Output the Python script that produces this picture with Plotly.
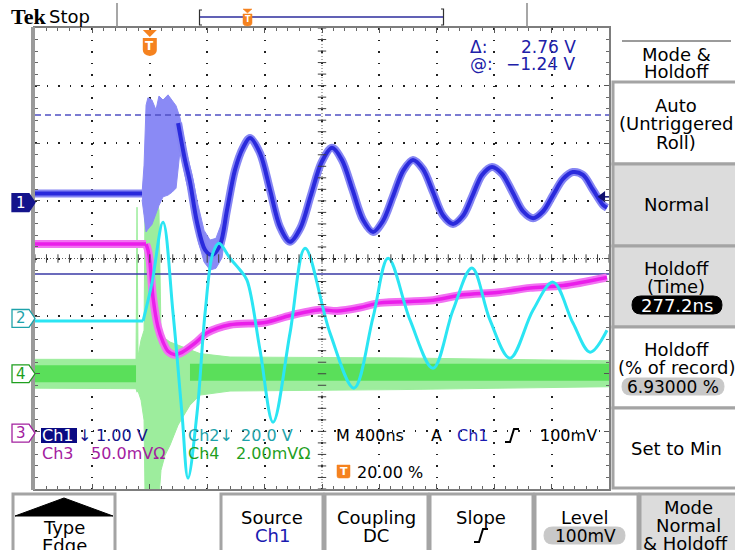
import numpy as np
import plotly.graph_objects as go

# ---------------- data ----------------
NS_PER_DIV = 400                       # M 400ns
TRIG_PCT = 20.0                        # trigger position, % of record
X_RANGE = [-TRIG_PCT / 10 * NS_PER_DIV, (10 - TRIG_PCT / 10) * NS_PER_DIV]
Y_RANGE = [-4, 4]

# channel settings: scale (units/div), position (div)
CH1_SCALE, CH1_POS = 1.00, 0.97        # V
CH2_SCALE, CH2_POS = 20.0, -1.04       # V
CH3_SCALE, CH3_POS = 50.0, -3.03       # mV
CH4_SCALE, CH4_POS = 2.00, -2.00       # mV

# Ch1 (V)
ch1_pre_t = [-800, -54]
ch1_pre_v = [0.16, 0.16]
ch1_burst_t = [-54, -40, -26, -13, 15, 43, 64, 92, 127, 155, 183, 211, 252, 294, 336, 378, 420, 461, 503, 545]
ch1_burst_hi = [0.16, 0.65, 1.69, 1.82, 1.78, 1.61, 1.85, 1.78, 1.87, 1.78, 1.68, 1.47, 0.91, 0.48, -0.04, -0.48, -0.65, -0.62, -0.34, 0.13]
ch1_burst_lo = [0.05, -0.22, -0.51, -0.46, -0.38, -0.20, -0.05, 0.10, 0.13, 0.18, 0.25, 0.91, 0.39, -0.04, -0.65, -1.03, -1.17, -1.14, -0.96, -0.22]
ch1_wave_t = [197, 245, 280, 329, 385, 433, 489, 538, 594, 649, 698,
              768, 838, 907, 977, 1050, 1123, 1197, 1270, 1339, 1413, 1486, 1556,
              1625, 1695, 1765, 1834, 1904, 1974, 2043, 2113, 2183, 2249, 2315, 2385,
              2455, 2528, 2601, 2671, 2741, 2810, 2880, 2949, 3019, 3089, 3158, 3186]
ch1_wave_v = [1.38, 0.74, 0.36, -0.34, -0.82, -0.91, -0.74, -0.13, 0.57, 0.95, 1.12,
              0.86, 0.22, -0.42, -0.68, -0.44, 0.13, 0.70, 0.95, 0.74, 0.22, -0.30, -0.51,
              -0.32, 0.11, 0.55, 0.74, 0.58, 0.18, -0.22, -0.37, -0.23, 0.12, 0.48, 0.62,
              0.50, 0.18, -0.15, -0.27, -0.15, 0.13, 0.41, 0.53, 0.48, 0.22, -0.04, -0.09]

# Ch2 (V): flat pre-trigger part, then the ringing
ch2_pre_t = [-800, -47]
ch2_pre_v = [-0.9, -0.9]
ch2_t = [-47, 15, 92, 162, 224, 266, 329, 385, 440, 482, 559, 629, 677, 768, 859, 977, 1082, 1256,
         1423, 1556, 1661, 1814, 1974, 2113, 2245, 2371, 2510, 2671, 2810, 2949, 3068, 3186]
ch2_v = [-0.9, 12.3, 33.4, 1.8, -32.9, -55.4, -32.9, 1.8, 22.7, 26.1, 20.9, 16.8, 13.3, -11.0, -36.0, -5.1, 24.4, -5.1,
         -24.2, 0.45, 20.9, -0.6, -17.3, 2.9, 17.5, -0.6, -13.8, 2.9, 12.6, -1.6, -11.7, -4.1]

# Ch3 (mV)
ch3_pre_t = [-800, -26]
ch3_pre_v = [164, 164]
ch3_t = [-26, -13, 1, 22, 57, 92, 127, 176, 224, 315, 399, 559, 803, 977, 1186, 1305, 1465, 1605,
         1953, 2183, 2420, 2650, 2880, 3186]
ch3_v = [164, 159, 148, 118, 92, 79, 71, 68, 70, 78, 87, 94, 96, 102, 107, 106, 109, 113,
         115, 120, 122, 126, 128, 135]

# Ch4 (mV): noise envelope and core
ch4_env_t = [-800, -96, -89, -82, -61, -40, -33, 1, 36, 64, 78, 106, 141, 197, 280, 350, 559, 1744, 3200]
ch4_env_hi = [0.50, 0.50, 5.78, 0.60, 1.17, 1.51, 6.03, 6.27, 6.20, 5.68, 1.51, 1.23, 1.10, 0.99, 0.82, 0.70, 0.58, 0.55, 0.45]
ch4_env_lo = [-0.50, -0.52, -0.64, -0.60, -0.92, -1.61, -4.3, -4.3, -4.3, -4.3, -3.35, -2.83, -2.48, -1.78, -1.09, -0.74, -0.60, -0.55, -0.45]
ch4_core_t = [-800, -96, None, 280, 3200]
ch4_core_v = [0.0, 0.0, None, 0.05, 0.05]

# cursors (Ch1) and trigger
CURSOR_AT = -1.24      # V
CURSOR_DELTA = 2.76    # V
TRIG_LEVEL = 0.100     # V on Ch1

# ---------------- helpers ----------------
W, H = 735, 550
GL, GR, GT, GB = 35, 609, 28, 489
FONT = "DejaVu Sans"
NAVY = "#14148C"
TEAL = "#1EA2AA"
MAG = "#A3209F"
GRN = "#1F9F1F"
ORANGE = "#F5821F"
GRAY_BOX = "#DCDCDC"
FRAME = "#A4A4A4"


def px(x):
    return (x - GL) / (GR - GL)


def py(y):
    return (GB - y) / (GB - GT)


def P(x, y):
    return f"{px(x):.5f},{py(y):.5f}"


def to_div(vals, scale, pos):
    return [None if v is None else v / scale + pos for v in vals]


fig = go.Figure()


def line(t, v, color, width, spline=True, smoothing=1.0, dash="solid"):
    fig.add_trace(go.Scatter(x=t, y=v, mode="lines", hoverinfo="skip", connectgaps=False,
                             line=dict(color=color, width=width, dash=dash,
                                       shape="spline" if spline else "linear",
                                       smoothing=smoothing if spline else None)))


# Ch4 burst / noise band
fig.add_trace(go.Scatter(x=ch4_env_t + ch4_env_t[::-1],
                         y=to_div(ch4_env_hi + ch4_env_lo[::-1], CH4_SCALE, CH4_POS),
                         fill="toself", fillcolor="#9DED9D", mode="lines",
                         line=dict(color="#9DED9D", width=1), hoverinfo="skip"))
line(ch4_core_t, to_div(ch4_core_v, CH4_SCALE, CH4_POS), "#5ADF5A", 17, spline=False)

# Ch1
fig.add_trace(go.Scatter(x=ch1_burst_t + ch1_burst_t[::-1],
                         y=to_div(ch1_burst_hi + ch1_burst_lo[::-1], CH1_SCALE, CH1_POS),
                         fill="toself", fillcolor="#8A8AF5", mode="lines",
                         line=dict(color="#8A8AF5", width=1), hoverinfo="skip"))
for t, v in ((ch1_pre_t, ch1_pre_v), (ch1_wave_t, ch1_wave_v)):
    line(t, to_div(v, CH1_SCALE, CH1_POS), "#8585F3", 8, smoothing=0.9)
    line(t, to_div(v, CH1_SCALE, CH1_POS), "#2A2ADC", 4, smoothing=0.9)

# cursors
cur_a = CURSOR_AT / CH1_SCALE + CH1_POS
cur_b = (CURSOR_AT + CURSOR_DELTA) / CH1_SCALE + CH1_POS
line(X_RANGE, [cur_a, cur_a], "#3A3AA6", 1.5, spline=False)
line(X_RANGE, [cur_b, cur_b], "#5050C4", 1.5, spline=False, dash="6px,4px")

# Ch3
for t, v in ((ch3_pre_t, ch3_pre_v), (ch3_t, ch3_v)):
    line(t, to_div(v, CH3_SCALE, CH3_POS), "#F272F2", 8, smoothing=0.8)
for t, v in ((ch3_pre_t, ch3_pre_v), (ch3_t, ch3_v)):
    line(t, to_div(v, CH3_SCALE, CH3_POS), "#EA1EEA", 3.5, smoothing=0.8)

# Ch2
line(ch2_pre_t, to_div(ch2_pre_v, CH2_SCALE, CH2_POS), "#2BE5F3", 3, spline=False)
line(ch2_t, to_div(ch2_v, CH2_SCALE, CH2_POS), "#2BE5F3", 3, smoothing=1.0)

# centre crosshair tick marks
xt = np.arange(X_RANGE[0], X_RANGE[1] + 1, NS_PER_DIV / 5)
yt = np.arange(Y_RANGE[0], Y_RANGE[1] + 0.001, 0.2)
xc = (X_RANGE[0] + X_RANGE[1]) / 2
fig.add_trace(go.Scatter(x=xt, y=np.zeros_like(xt), mode="markers", hoverinfo="skip",
                         marker=dict(symbol="line-ns", size=6, line=dict(color="#404040", width=1))))
fig.add_trace(go.Scatter(x=np.full_like(yt, xc), y=yt, mode="markers", hoverinfo="skip",
                         marker=dict(symbol="line-ew", size=6, line=dict(color="#404040", width=1))))

# trigger level arrow (right edge)
lvl = TRIG_LEVEL / CH1_SCALE + CH1_POS
line([X_RANGE[1] - 45, X_RANGE[1]], [lvl, lvl], "#101070", 1.5, spline=False)
fig.add_trace(go.Scatter(x=[X_RANGE[1] - 45], y=[lvl], mode="markers", hoverinfo="skip",
                         marker=dict(symbol="triangle-left", size=10, color="#101070")))

# ---------------- shapes ----------------
shapes = []


def rect(x0, y0, x1, y1, fill="rgba(0,0,0,0)", line="rgba(0,0,0,0)", lw=0):
    shapes.append(dict(type="rect", xref="paper", yref="paper", x0=px(x0), x1=px(x1),
                       y0=py(y1), y1=py(y0), fillcolor=fill, line=dict(color=line, width=lw), layer="above"))


def path(d, fill="rgba(0,0,0,0)", line="rgba(0,0,0,0)", lw=0, xref="paper", yref="paper"):
    shapes.append(dict(type="path", path=d, xref=xref, yref=yref, fillcolor=fill,
                       line=dict(color=line, width=lw), layer="above"))


def seg(x0, y0, x1, y1, color, lw=1, dash="solid"):
    shapes.append(dict(type="line", xref="paper", yref="paper", x0=px(x0), y0=py(y0), x1=px(x1), y1=py(y1),
                       line=dict(color=color, width=lw, dash=dash), layer="above"))


def pill(x0, y0, x1, y1, fill):
    r = (y1 - y0) / 2
    ym = (y0 + y1) / 2
    d = (f"M {P(x0 + r, y0)} L {P(x1 - r, y0)} Q {P(x1, y0)} {P(x1, ym)} Q {P(x1, y1)} {P(x1 - r, y1)} "
         f"L {P(x0 + r, y1)} Q {P(x0, y1)} {P(x0, ym)} Q {P(x0, y0)} {P(x0 + r, y0)} Z")
    path(d, fill=fill, line=fill, lw=1)


# centre dotted lines (below traces)
shapes.append(dict(type="line", xref="x", yref="y", x0=X_RANGE[0], x1=X_RANGE[1], y0=0, y1=0,
                   line=dict(color="#606060", width=1, dash="1px,2px"), layer="below"))
shapes.append(dict(type="line", xref="x", yref="y", x0=xc, x1=xc, y0=Y_RANGE[0], y1=Y_RANGE[1],
                   line=dict(color="#606060", width=1, dash="1px,2px"), layer="below"))

# left frame bar
rect(31, 27, 35, 490, fill="#9A9A9A")

# trigger position marker (t = 0)
dx = 7 * (X_RANGE[1] - X_RANGE[0]) / (GR - GL)
shapes.append(dict(type="path", xref="x", yref="paper", fillcolor=ORANGE, line=dict(color=ORANGE, width=0),
                   path=f"M {-dx},{py(30)} L {dx},{py(30)} L 0,{py(37)} Z", layer="above"))
shapes.append(dict(type="path", xref="x", yref="paper", fillcolor=ORANGE, line=dict(color=ORANGE, width=0),
                   path=(f"M {-dx},{py(38)} L {dx},{py(38)} L {dx},{py(50)} Q {dx},{py(55)} 0,{py(56)} "
                         f"Q {-dx},{py(55)} {-dx},{py(50)} Z"), layer="above"))

# top bar
seg(117, 3, 117, 27, "#8A8A8A", 1.5)
seg(527, 3, 527, 27, "#8A8A8A", 1.5)
path(f"M {P(202, 10)} L {P(199.5, 10)} L {P(199.5, 25)} L {P(202, 25)}", line="#303030", lw=1.2)
path(f"M {P(441, 9)} L {P(443.5, 9)} L {P(443.5, 25)} L {P(441, 25)}", line="#303030", lw=1.2)
seg(200, 17, 443, 17, "#2C2C9C", 1.5)
path(f"M {P(243, 9)} L {P(252, 9)} L {P(247.5, 13)} Z", fill=ORANGE, line=ORANGE, lw=0.5)
path(f"M {P(243, 14)} L {P(252, 14)} L {P(252, 23)} Q {P(252, 26)} {P(247.5, 26)} Q {P(243, 26)} {P(243, 23)} Z",
     fill=ORANGE, line=ORANGE, lw=0.5)

# right menu
seg(622, 41, 731, 41, "#7A7A7A", 1.5)
rect(613, 82, 745, 164, fill="white", line=FRAME, lw=3)
rect(613, 164, 745, 246, fill=GRAY_BOX, line=FRAME, lw=3)
rect(613, 246, 745, 327, fill=GRAY_BOX, line=FRAME, lw=3)
rect(613, 327, 745, 408, fill="white", line=FRAME, lw=3)
rect(613, 408, 745, 488, fill="white", line=FRAME, lw=3)
pill(632, 296, 722, 314, "#000000")
pill(622, 378, 724, 395, "#C8C8C8")

# bottom menu
for (x0, x1, f) in [(13, 115, "white"), (221, 323, "white"), (325, 428, "white"),
                    (430, 533, "white"), (535, 638, "white"), (640, 745, GRAY_BOX)]:
    rect(x0, 494, x1, 560, fill=f, line=FRAME, lw=3)
path(f"M {P(15, 516)} L {P(64, 498)} L {P(113, 516)} Z", fill="black", line="black", lw=1)
pill(544, 527, 625, 544, "#C8C8C8")
path(f"M {P(474, 542)} L {P(479, 542)} L {P(483, 529)} L {P(488, 529)}", line="black", lw=2)

# graticule readout decorations
rect(41, 428, 77, 443, fill="#0A0A82")
path(f"M {P(337, 465)} L {P(350, 465)} L {P(350, 476)} Q {P(350, 478)} {P(348, 478)} L {P(339, 478)} "
     f"Q {P(337, 478)} {P(337, 476)} Z", fill=ORANGE, line=ORANGE, lw=0.5)
path(f"M {P(505, 442)} L {P(510, 442)} L {P(514, 429)} L {P(519, 429)}", line="black", lw=2)

# channel ground markers
for pos, lab, edge, fill, tc in [(CH1_POS, "1", NAVY, NAVY, "white"), (CH2_POS, "2", TEAL, "white", TEAL),
                                 (CH4_POS, "4", GRN, "white", GRN), (CH3_POS, "3", MAG, "white", MAG)]:
    h = 0.155
    shapes.append(dict(type="path", xref="paper", yref="y", fillcolor=fill, line=dict(color=edge, width=1.3),
                       path=(f"M {px(12)},{pos + h} L {px(29)},{pos + h} L {px(35)},{pos} "
                             f"L {px(29)},{pos - h} L {px(12)},{pos - h} Z"), layer="above"))

# ---------------- annotations ----------------
ann = []


def txt(x, y, s, size=16, color="black", anchor="left", family=FONT, yref="paper"):
    ann.append(dict(x=px(x), y=py(y) if yref == "paper" else y, xref="paper", yref=yref, text=s,
                    showarrow=False, xanchor=anchor, yanchor="middle",
                    font=dict(size=size, color=color, family=family)))


txt(9, 17, "<b>Tek</b>", 22, "black", family="Liberation Serif")
txt(47, 17, "Stop", 18)

txt(468, 47, "Δ:", 17, "#2020A8")
txt(578, 47, "2.76 V", 17, "#2020A8", anchor="right")
txt(468, 64, "@:", 17, "#2020A8")
txt(578, 64, "−1.24 V", 17, "#2020A8", anchor="right")

txt(40, 435, "Ch1", 16, "white")
txt(76, 435, "↓", 16, NAVY)
txt(94, 435, "1.00 V", 16, NAVY)
txt(186, 435, "Ch2↓", 16, TEAL)
txt(239, 435, "20.0 V", 16, TEAL)
txt(40, 453, "Ch3", 16, MAG)
txt(89, 453, "50.0mVΩ", 16, MAG)
txt(186, 453, "Ch4", 16, GRN)
txt(234, 453, "2.00mVΩ", 16, GRN)
txt(334, 435, "M 400ns", 16)
txt(429, 435, "A", 16)
txt(455, 435, "Ch1", 16, "#1A1AB0")
txt(538, 435, "100mV", 16)
txt(343.5, 471.5, "<b>T</b>", 11, "white", anchor="center")
txt(355, 472, "20.00 %", 16)

ann.append(dict(x=0, y=py(46.5), xref="x", yref="paper", text="<b>T</b>", showarrow=False,
                xanchor="center", yanchor="middle", font=dict(size=12, color="white", family=FONT)))
txt(247.5, 19.5, "<b>T</b>", 8, "white", anchor="center")

for pos, lab, tc in [(CH1_POS, "1", "white"), (CH2_POS, "2", TEAL), (CH4_POS, "4", GRN), (CH3_POS, "3", MAG)]:
    txt(20.5, pos, lab, 15, tc, anchor="center", yref="y")

# right menu text
MX = 676
txt(MX, 54, "Mode &", 18, anchor="center")
txt(MX, 71, "Holdoff", 18, anchor="center")
txt(MX, 105, "Auto", 18, anchor="center")
txt(MX, 124, "(Untriggered", 18, anchor="center")
txt(MX, 142, "Roll)", 18, anchor="center")
txt(MX, 205, "Normal", 18, anchor="center")
txt(MX, 268, "Holdoff", 18, anchor="center")
txt(MX, 286, "(Time)", 18, anchor="center")
txt(677, 305, "277.2ns", 18, "white", anchor="center")
txt(MX, 349, "Holdoff", 18, anchor="center")
txt(MX, 367, "(% of record)", 18, anchor="center")
txt(673, 386.5, "6.93000 %", 17, anchor="center")
txt(MX, 448, "Set to Min", 18, anchor="center")

# bottom menu text
txt(64, 527, "Type", 18, anchor="center")
txt(64, 545, "Edge", 18, anchor="center")
txt(272, 517, "Source", 18, anchor="center")
txt(272, 535, "Ch1", 18, "#1A1AB0", anchor="center")
txt(376, 517, "Coupling", 18, anchor="center")
txt(376, 535, "DC", 18, anchor="center")
txt(481, 517, "Slope", 18, anchor="center")
txt(585, 517, "Level", 18, anchor="center")
txt(585, 535.5, "100mV", 17, anchor="center")
txt(688, 507, "Mode", 18, anchor="center")
txt(688, 525, "Normal", 18, anchor="center")
txt(686, 543, "&amp; Holdoff", 18, anchor="center")

# ---------------- layout ----------------
axis_common = dict(showticklabels=False, zeroline=False, showline=True, linecolor="#7D7D7D", linewidth=2,
                   mirror="allticks", ticks="inside", ticklen=5, tickwidth=1, tickcolor="#555555",
                   showgrid=True, gridcolor="#202020", gridwidth=2, fixedrange=True)

fig.update_layout(
    width=W, height=H, autosize=False,
    margin=dict(l=GL, r=W - GR, t=GT, b=H - GB, pad=0),
    paper_bgcolor="white", plot_bgcolor="white",
    showlegend=False, hovermode=False,
    xaxis=dict(range=X_RANGE, tick0=X_RANGE[0], dtick=NS_PER_DIV, griddash="1.5px,10px",
               minor=dict(dtick=NS_PER_DIV / 5, ticks="inside", ticklen=3, tickcolor="#666666", showgrid=False),
               **axis_common),
    yaxis=dict(range=Y_RANGE, tick0=Y_RANGE[0], dtick=1, griddash="1.5px,10px",
               minor=dict(dtick=0.2, ticks="inside", ticklen=3, tickcolor="#666666", showgrid=False),
               **axis_common),
    shapes=shapes, annotations=ann,
    font=dict(family=FONT),
)

fig.write_html("out.html", config={"displayModeBar": False},
               post_script="document.body.style.margin='0';document.body.style.overflow='hidden';")
